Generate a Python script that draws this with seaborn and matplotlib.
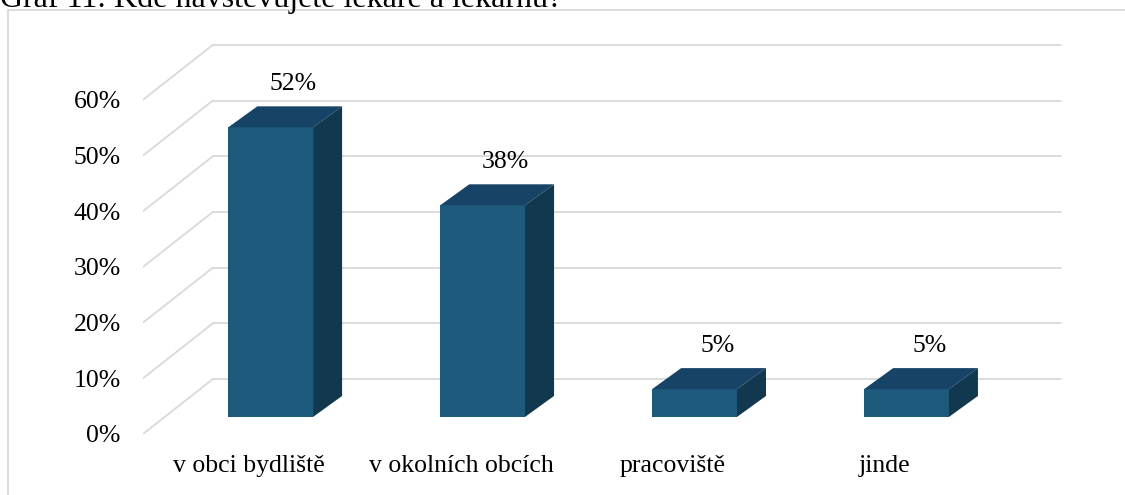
import pandas as pd
import seaborn as sns
import matplotlib.pyplot as plt
from matplotlib.patches import Polygon, Rectangle

# Data
categories = ['v obci bydliště', 'v okolních obcích', 'pracoviště', 'jinde']
shares = [52, 38, 5, 5]
value_labels = ['52%', '38%', '5%', '5%']
tick_values = [0, 10, 20, 30, 40, 50, 60]
tick_labels = ['0%', '10%', '20%', '30%', '40%', '50%', '60%']
title = 'Graf 11: Kde navštěvujete lékaře a lékárnu?'

sns.set_theme(style='white')
plt.rcParams['font.family'] = ['Liberation Serif', 'DejaVu Serif']

df = pd.DataFrame({'kde': categories, 'podil': shares})

front_col = '#1d5a7b'
top_col = '#174466'
side_col = '#12384f'
grid_col = '#d9d9d9'

# fake 3D depth, in data units
depth_x, depth_y = 0.33, 9.88   # whole floor/wall depth
bar_dx, bar_dy = 0.137, 3.77    # depth of one bar
shift_x, shift_y = 0.31 * depth_x, 0.31 * depth_y   # bars sit a bit inside

fig = plt.figure(figsize=(11.25, 4.95), dpi=100)
ax = fig.add_axes([143 / 1125, 61 / 495, 922 / 1125, 401 / 495])

sns.barplot(data=df, x='kde', y='podil', width=0.4, color=front_col,
            saturation=1, linewidth=0, ax=ax, zorder=3)

# move front faces back and add top + side faces
for p in ax.patches:
    p.set_x(p.get_x() + shift_x)
    p.set_y(shift_y)
    x0, y0 = p.get_x(), p.get_y()
    x1, y1 = x0 + p.get_width(), y0 + p.get_height()
    top = [(x0, y1), (x0 + bar_dx, y1 + bar_dy), (x1 + bar_dx, y1 + bar_dy), (x1, y1)]
    side = [(x1, y0), (x1 + bar_dx, y0 + bar_dy), (x1 + bar_dx, y1 + bar_dy), (x1, y1)]
    ax.add_patch(Polygon(top, closed=True, color=top_col, lw=0, zorder=3))
    ax.add_patch(Polygon(side, closed=True, color=side_col, lw=0, zorder=3))

# side wall diagonals and back wall gridlines
for v in tick_values:
    ax.plot([-0.5, -0.5 + depth_x], [v, v + depth_y], color=grid_col, lw=1.3, zorder=1)
    ax.plot([-0.5 + depth_x, 3.5 + depth_x], [v + depth_y, v + depth_y],
            color=grid_col, lw=1.3, zorder=1)

# value labels
for i, (v, lab) in enumerate(zip(shares, value_labels)):
    ax.text(i + 0.21, v + shift_y + bar_dy + 4, lab, ha='center', va='center',
            fontsize=18.5, color='black')

ax.set_xlim(-0.5, 3.85)
ax.set_ylim(0, 72)
ax.set_yticks(tick_values, tick_labels)
ax.tick_params(axis='y', length=0, pad=16, labelsize=18.5, labelcolor='black')
ax.tick_params(axis='x', length=0, pad=15, labelsize=18.5, labelcolor='black')
ax.set_xlabel('')
ax.set_ylabel('')
sns.despine(ax=ax, left=True, bottom=True)

# chart frame and caption (cut off at the top, as in the source)
fig.add_artist(Rectangle((8 / 1125, -0.1), 1.2, 1.1 - 10 / 495, transform=fig.transFigure,
                         fill=False, edgecolor=grid_col, lw=1.3))
fig.text(0.0, 1 - 7 / 495, title, fontsize=23, va='baseline', ha='left', color='black')

fig.savefig('out.png', dpi=100)
